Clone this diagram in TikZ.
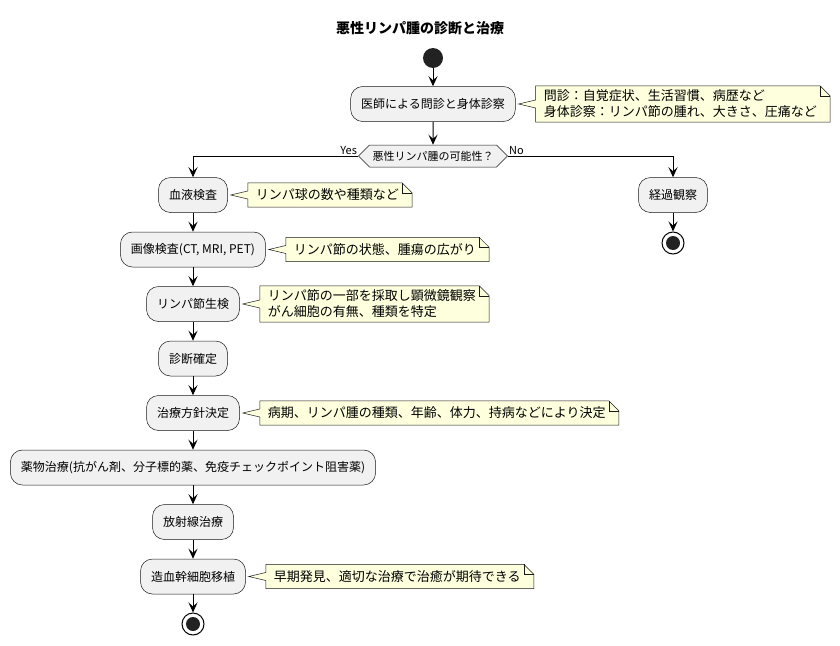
\documentclass[tikz,border=0pt]{standalone}
\usepackage{fontspec}
\setmainfont{Noto Sans CJK JP}
\usetikzlibrary{positioning,shapes.symbols,arrows.meta,backgrounds}
\definecolor{actfill}{HTML}{F1F1F1}
\definecolor{notefill}{HTML}{FEFFDD}
\definecolor{umlline}{HTML}{181818}
\definecolor{dotfill}{HTML}{222222}
\tikzset{
  act/.style={draw=umlline, fill=actfill, rounded corners=12pt, line width=0.5pt,
    minimum height=35pt, inner xsep=10.5pt, font=\fontsize{12}{14}\selectfont},
  cond/.style={draw=umlline, fill=actfill, line width=0.5pt, signal, signal to=west and east,
    signal pointer angle=90, minimum height=22pt, inner xsep=3pt, inner ysep=2pt,
    font=\fontsize{11}{13}\selectfont},
  note/.style={inner xsep=8pt, inner ysep=4pt, minimum height=24pt, align=left,
    font=\fontsize{13}{16}\selectfont},
  notebg/.style={draw=umlline, fill=notefill, line width=0.5pt},
  lbl/.style={inner sep=1pt, font=\fontsize{11}{13}\selectfont},
  flow/.style={draw=black, line width=1pt, -{Stealth[length=10pt,width=9pt,inset=4pt]}},
  startdot/.style={circle, fill=dotfill, minimum size=20pt, inner sep=0pt},
  stopdot/.style={circle, draw=black, line width=1pt, minimum size=22pt, inner sep=0pt,
    path picture={\fill[dotfill] (path picture bounding box.center) circle (7pt);}}
}
\newcommand{\notebg}[2]{%
  \begin{scope}[on background layer]
    \draw[notebg] (#1.north west) -- ([xshift=-5pt]#1.north east) -- ([xshift=5pt,yshift=-10pt]#1.north east)
      -- ([xshift=5pt]#1.south east) -- (#1.south west) -- ([yshift=-4pt]#1.west) -- ([xshift=3pt]#2.east)
      -- ([yshift=4pt]#1.west) -- cycle;
    \draw[notebg, fill=none] ([xshift=-5pt]#1.north east) |- ([xshift=5pt,yshift=-10pt]#1.north east);
  \end{scope}}

\begin{document}
\begin{tikzpicture}[x=1pt,y=-1pt]
  \useasboundingbox (0,0) rectangle (840,645);
  \node[font=\fontsize{14}{16}\selectfont\bfseries] (title) at (420,28) {悪性リンパ腫の診断と治療};

  \node[startdot] (start) at (433,58) {};
  \node[act] (b1) at (433,104) {医師による問診と身体診察};
  \node[cond] (dec) at (433,156) {悪性リンパ腫の可能性？};
  \node[lbl, anchor=south east] (yes) at (dec.west) {Yes};
  \node[lbl, anchor=south west] (no) at (dec.east) {No};

  \node[act] (blood) at (193,195) {血液検査};
  \node[act] (img) at (193,249.5) {画像検査(CT, MRI, PET)};
  \node[act] (bio) at (193,304) {リンパ節生検};
  \node[act] (diag) at (193,358.5) {診断確定};
  \node[act] (plan) at (193,413) {治療方針決定};
  \node[act] (drug) at (193,467.5) {薬物治療(抗がん剤、分子標的薬、免疫チェックポイント阻害薬)};
  \node[act] (rad) at (193,522) {放射線治療};
  \node[act] (sct) at (193,576.5) {造血幹細胞移植};
  \node[stopdot] (stop1) at (193,624) {};

  \node[act] (watch) at (673,195) {経過観察};
  \node[stopdot] (stop2) at (673,243) {};

  \node[note, right=20pt of b1] (n1) {問診：自覚症状、生活習慣、病歴など\\身体診察：リンパ節の腫れ、大きさ、圧痛など};
  \node[note, right=20pt of blood] (n2) {リンパ球の数や種類など};
  \node[note, right=20pt of img] (n3) {リンパ節の状態、腫瘍の広がり};
  \node[note, right=20pt of bio] (n4) {リンパ節の一部を採取し顕微鏡観察\\がん細胞の有無、種類を特定};
  \node[note, right=20pt of plan] (n5) {病期、リンパ腫の種類、年齢、体力、持病などにより決定};
  \node[note, right=20pt of sct] (n6) {早期発見、適切な治療で治癒が期待できる};
  \foreach \n/\t in {n1/b1, n2/blood, n3/img, n4/bio, n5/plan, n6/sct}
    \notebg{\n}{\t};

  \draw[flow] (start) -- (b1);
  \draw[flow] (b1) -- (dec);
  \draw[flow] (dec.west) -| (blood);
  \draw[flow] (dec.east) -| (watch);
  \draw[flow] (watch) -- (stop2);
  \foreach \a/\b in {blood/img, img/bio, bio/diag, diag/plan, plan/drug, drug/rad, rad/sct, sct/stop1}
    \draw[flow] (\a) -- (\b);
\end{tikzpicture}
\end{document}
